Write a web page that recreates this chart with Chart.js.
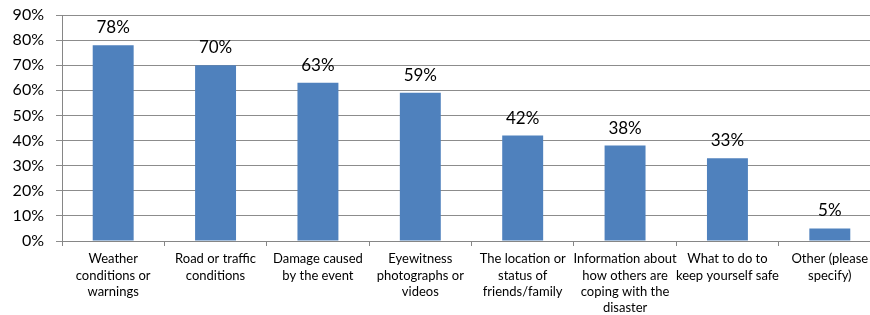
<!DOCTYPE html>
<html>
<head>
<meta charset="utf-8">
<script src="https://cdn.jsdelivr.net/npm/chart.js@4/dist/chart.umd.min.js"></script>
<style>
  html, body { margin: 0; padding: 0; background: #fff; overflow: hidden; }
  #wrap { width: 870px; height: 315px; overflow: hidden; }
  #box { width: 884px; height: 315px; }
</style>
</head>
<body>
<div id="wrap"><div id="box"><canvas id="chart"></canvas></div></div>
<script>
// categories (wrapped the same way as the source chart)
const categories = [
    ['Weather', 'conditions or', 'warnings'],
    ['Road or traffic', 'conditions'],
    ['Damage caused', 'by the event'],
    ['Eyewitness', 'photographs or', 'videos'],
    ['The location or', 'status of', 'friends/family'],
    ['Information about', 'how others are', 'coping with the', 'disaster'],
    ['What to do to', 'keep yourself safe'],
    ['Other (please', 'specify)']
];
const percentages = [78, 70, 63, 59, 42, 38, 33, 5];
const yTicks = [0, 10, 20, 30, 40, 50, 60, 70, 80, 90];

const FONT = 'Lato, "Open Sans", sans-serif';

// draws the "78%" style numbers above each bar
const valueLabels = {
    id: 'valueLabels',
    afterDatasetsDraw(chart) {
        const ctx = chart.ctx;
        const meta = chart.getDatasetMeta(0);
        ctx.save();
        ctx.font = '17px ' + FONT;
        ctx.fillStyle = '#000';
        ctx.textAlign = 'center';
        ctx.textBaseline = 'alphabetic';
        meta.data.forEach((bar, i) => {
            ctx.fillText(percentages[i] + '%', bar.x, bar.y - 12);
        });
        ctx.restore();
    }
};

new Chart(document.getElementById('chart'), {
    type: 'bar',
    data: {
        labels: categories,
        datasets: [{
            data: percentages,
            backgroundColor: '#4F81BD',
            borderWidth: 0,
            categoryPercentage: 1,
            barPercentage: 0.4
        }]
    },
    options: {
        responsive: true,
        maintainAspectRatio: false,
        animation: false,
        layout: { padding: { top: 15, right: 3, left: 0, bottom: 0 } },
        plugins: {
            legend: { display: false },
            tooltip: { enabled: false }
        },
        scales: {
            x: {
                grid: {
                    offset: true,
                    drawOnChartArea: false,
                    drawTicks: true,
                    tickLength: 5,
                    color: '#868686'
                },
                border: { color: '#868686' },
                ticks: {
                    color: '#000',
                    font: { family: FONT, size: 13, lineHeight: 1.25 },
                    padding: 5,
                    maxRotation: 0,
                    autoSkip: false
                },
                afterFit(axis) { axis.height = 74; }
            },
            y: {
                min: 0,
                max: 90,
                afterBuildTicks(axis) { axis.ticks = yTicks.map(v => ({ value: v })); },
                grid: {
                    color: '#8c8c8c',
                    tickLength: 6
                },
                border: { color: '#868686' },
                ticks: {
                    color: '#000',
                    font: { family: FONT, size: 16 },
                    padding: 12,
                    callback: v => v + '%'
                },
                afterFit(axis) {
                    axis.width = 62;
                    axis.paddingTop = 0;
                    axis.paddingBottom = 0;
                }
            }
        }
    },
    plugins: [valueLabels]
});
</script>
</body>
</html>
